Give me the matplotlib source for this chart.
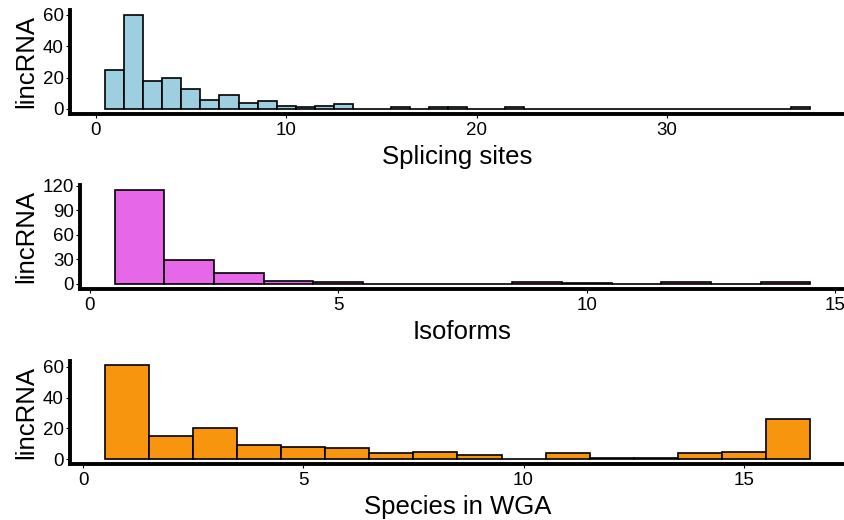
import matplotlib
matplotlib.use("Agg")
import matplotlib.pyplot as plt
import numpy as np

plt.rcParams['font.family'] = ['Liberation Sans', 'DejaVu Sans']

# ---- data ----
splicing_bins = list(range(1, 38))
splicing_counts = [25, 60, 18, 20, 13, 6, 9, 4, 5, 2, 1, 2, 3, 0, 0, 1, 0, 1, 1, 0,
                   0, 1, 0, 0, 0, 0, 0, 0, 0, 0, 0, 0, 0, 0, 0, 0, 1]
isoform_bins = list(range(1, 15))
isoform_counts = [115, 29, 13, 4, 3, 0, 0, 0, 2, 1, 0, 2, 0, 2]
species_bins = list(range(1, 17))
species_counts = [61, 15, 20, 9, 8, 7, 4, 5, 3, 0, 4, 1, 1, 4, 5, 26]

splicing_xticks = [0, 10, 20, 30]
isoform_xticks = [0, 5, 10, 15]
species_xticks = [0, 5, 10, 15]
splicing_yticks = [0, 20, 40, 60]
isoform_yticks = [0, 30, 60, 90, 120]
species_yticks = [0, 20, 40, 60]

W, H = 845, 520
fig = plt.figure(figsize=(W / 100, H / 100), dpi=100)

panels = [
    dict(bins=splicing_bins, counts=splicing_counts, color='#9ECFE1',
         xlabel='Splicing sites', xticks=splicing_xticks, yticks=splicing_yticks,
         box=(70, 10, 845, 113.7)),
    dict(bins=isoform_bins, counts=isoform_counts, color='#E667E8',
         xlabel='Isoforms', xticks=isoform_xticks, yticks=isoform_yticks,
         box=(80, 185, 845, 288.7)),
    dict(bins=species_bins, counts=species_counts, color='#F7950F',
         xlabel='Species in WGA', xticks=species_xticks, yticks=species_yticks,
         box=(70, 360.5, 845, 464)),
]

for p in panels:
    l, t, r, b = p['box']
    ax = fig.add_axes([l / W, 1 - b / H, (r - l) / W, (b - t) / H])
    bins = np.array(p['bins'])
    counts = np.array(p['counts'])
    ax.bar(bins, counts, width=1.0, color=p['color'], edgecolor='black',
           linewidth=1.2, zorder=2)
    lo, hi = bins.min() - 0.5, bins.max() + 0.5
    ex = 0.05 * (hi - lo)
    ax.set_xlim(lo - ex, hi + ex)
    ymax = counts.max()
    ax.set_ylim(-0.05 * ymax, ymax * 1.05)
    ax.set_xticks(p['xticks'])
    ax.set_yticks(p['yticks'])
    for s in ['top', 'right']:
        ax.spines[s].set_visible(False)
    for s in ['left', 'bottom']:
        ax.spines[s].set_linewidth(2.8)
        ax.spines[s].set_capstyle('projecting')
    ax.tick_params(axis='both', labelsize=13.5, colors='black', width=0.8,
                   length=3, labelcolor='black')
    ax.tick_params(axis='x', pad=3)
    ax.tick_params(axis='y', pad=1.5)
    ax.set_xlabel(p['xlabel'], fontsize=18.5, labelpad=4)
    ax.set_ylabel('lincRNA', fontsize=18.5)
    ax.yaxis.set_label_coords(38 / W, 1 - ((t + b) / 2) / H, transform=fig.transFigure)
    ax.patch.set_visible(False)

fig.savefig('out.png', dpi=100)
